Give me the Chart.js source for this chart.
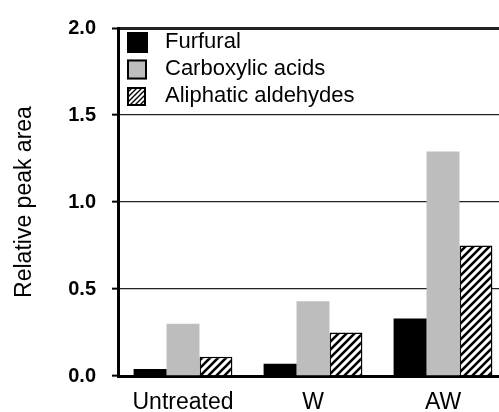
<!DOCTYPE html>
<html>
<head>
<meta charset="utf-8">
<script src="https://cdn.jsdelivr.net/npm/chart.js@4"></script>
<style>
  html, body { margin: 0; padding: 0; background: #fff; overflow: hidden; }
  #wrap { width: 499px; height: 412px; overflow: hidden; }
</style>
</head>
<body>
<div id="wrap"><canvas id="barChart" width="510" height="412"></canvas></div>
<script>
const categories = ['Untreated', 'W', 'AW']
const furfural = [0.04, 0.07, 0.33]
const carboxylicAcids = [0.30, 0.43, 1.29]
const aliphaticAldehydes = [0.11, 0.25, 0.75]
const yTicks = [0, 0.5, 1.0, 1.5, 2.0]

const FONT = "'Liberation Sans', Arial, sans-serif"

const ctx = document.getElementById('barChart').getContext('2d')

// diagonal "/" hatching
const makeHatch = (size, lw) => {
  const c = document.createElement('canvas')
  c.width = c.height = size
  const g = c.getContext('2d')
  g.fillStyle = '#fff'
  g.fillRect(0, 0, size, size)
  g.strokeStyle = '#000'
  g.lineWidth = lw
  g.beginPath()
  g.moveTo(-1, size + 1); g.lineTo(size + 1, -1)
  g.moveTo(-size / 2 - 1, size / 2 + 1); g.lineTo(size / 2 + 1, -size / 2 - 1)
  g.moveTo(size / 2 - 1, size * 1.5 + 1); g.lineTo(size * 1.5 + 1, size / 2 - 1)
  g.stroke()
  return ctx.createPattern(c, 'repeat')
}

const hatch = makeHatch(8, 2.6)
const hatchSmall = makeHatch(5, 1.4)

const legendInside = {
  id: 'legendInside',
  afterDraw(chart) {
    const c = chart.ctx
    const area = chart.chartArea
    const x = area.left + 9
    let y = area.top + 4
    c.save()
    c.font = '22px ' + FONT
    c.textBaseline = 'middle'
    chart.data.datasets.forEach(ds => {
      const s = ds.legendSize
      c.fillStyle = ds.legendFill || ds.backgroundColor
      c.fillRect(x, y, s, s)
      if (ds.legendBorder) {
        c.strokeStyle = '#000'
        c.lineWidth = 2
        c.strokeRect(x + 1, y + 1, s - 2, s - 2)
      }
      c.fillStyle = '#000'
      c.fillText(ds.label, x + 38, y + s / 2 - 1)
      y += 27.5
    })
    c.restore()
  }
}

new Chart(ctx, {
  type: 'bar',
  data: {
    labels: categories,
    datasets: [{
      label: 'Furfural',
      data: furfural,
      backgroundColor: '#000',
      legendSize: 21
    }, {
      label: 'Carboxylic acids',
      data: carboxylicAcids,
      backgroundColor: '#bdbdbd',
      legendBorder: true,
      legendSize: 20
    }, {
      label: 'Aliphatic aldehydes',
      data: aliphaticAldehydes,
      backgroundColor: hatch,
      borderColor: '#000',
      borderWidth: 1.5,
      legendFill: hatchSmall,
      legendBorder: true,
      legendSize: 19
    }]
  },
  options: {
    responsive: false,
    animation: false,
    layout: { padding: { top: 24, right: 2, left: 0, bottom: 0 } },
    categoryPercentage: 0.76,
    barPercentage: 1.0,
    plugins: {
      legend: { display: false },
      tooltip: { enabled: false }
    },
    scales: {
      x: {
        grid: { display: false },
        border: { color: '#000', width: 3 },
        ticks: { color: '#000', padding: 5, font: { family: FONT, size: 23 } },
        afterFit: scale => { scale.height = 36 }
      },
      y: {
        min: 0,
        max: 2,
        afterBuildTicks: scale => { scale.ticks = yTicks.map(v => ({ value: v })) },
        grid: {
          color: '#222',
          lineWidth: c => (c.tick && c.tick.value === 2 ? 3 : 1.3),
          tickLength: 6,
          tickWidth: 2,
          tickColor: '#000'
        },
        border: { color: '#000', width: 3 },
        ticks: {
          color: '#000',
          padding: 16,
          font: { family: FONT, size: 20, weight: 'bold' },
          callback: v => v.toFixed(1)
        },
        title: {
          display: true,
          text: 'Relative peak area',
          color: '#000',
          padding: { top: 11, bottom: 0 },
          font: { family: FONT, size: 23 }
        },
        afterFit: scale => { scale.width = 118 }
      }
    }
  },
  plugins: [legendInside]
})
</script>
</body>
</html>
